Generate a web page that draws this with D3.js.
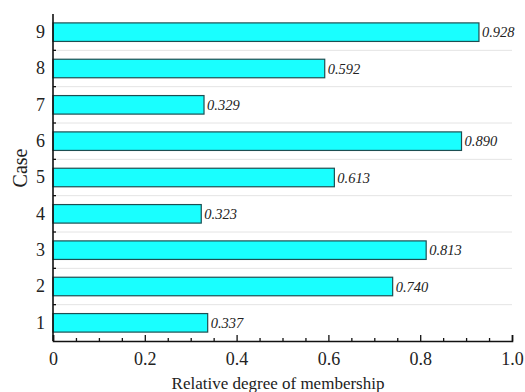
<!DOCTYPE html>
<html>
<head>
<meta charset="utf-8">
<script src="https://cdn.jsdelivr.net/npm/d3@7"></script>
<style>
  html, body { margin: 0; padding: 0; background: #fff; }
  svg { display: block; }
</style>
</head>
<body>
<svg id="chart" width="525" height="392"></svg>
<script>
// Membership degree per case
const cases = ["1", "2", "3", "4", "5", "6", "7", "8", "9"];
const values = [0.337, 0.740, 0.813, 0.323, 0.613, 0.890, 0.329, 0.592, 0.928];
const xTicks = [0, 0.2, 0.4, 0.6, 0.8, 1.0];
const xTickLabels = ["0", "0.2", "0.4", "0.6", "0.8", "1.0"];

const svg = d3.select("#chart");
const margin = { left: 53, right: 13, top: 14, bottom: 51 };
const W = 525, H = 392;
const font = "'Liberation Serif', 'Times New Roman', serif";

const x = d3.scaleLinear().domain([0, 1]).range([margin.left, W - margin.right]);
const y = d3.scaleBand().domain(cases.slice().reverse())
  .range([margin.top, H - margin.bottom]).paddingInner(0.49).paddingOuter(0.245);

// Light separators between case rows
const step = y.step();
const bounds = d3.range(1, cases.length).map(i => margin.top + i * step);
svg.append("g").selectAll("line").data(bounds).join("line")
  .attr("x1", x(0)).attr("x2", x(1))
  .attr("y1", d => d).attr("y2", d => d)
  .attr("stroke", "#e4e4e4").attr("stroke-width", 1);

// Bars
svg.append("g").selectAll("rect").data(values).join("rect")
  .attr("x", x(0))
  .attr("y", (d, i) => y(cases[i]))
  .attr("width", d => x(d) - x(0))
  .attr("height", y.bandwidth())
  .attr("fill", "#19ffff")
  .attr("stroke", "#1d4f52")
  .attr("stroke-width", 1.2);

// Value labels
svg.append("g").selectAll("text").data(values).join("text")
  .attr("x", d => x(d) + 3)
  .attr("y", (d, i) => y(cases[i]) + y.bandwidth() / 2 + 5)
  .attr("font-family", font).attr("font-style", "italic")
  .attr("font-size", 14.5).attr("fill", "#222")
  .text(d => d.toFixed(3));

// X axis
const xAxisY = H - margin.bottom;
const gx = svg.append("g").attr("transform", `translate(0,${xAxisY})`);
gx.call(d3.axisBottom(x).tickValues(xTicks).tickFormat((d, i) => xTickLabels[i]).tickSize(-6).tickPadding(11));
gx.append("g").call(d3.axisBottom(x).tickValues(d3.range(0.05, 1, 0.05).filter(v => Math.abs(v * 5 - Math.round(v * 5)) > 1e-6)).tickFormat("").tickSize(-3))
  .select(".domain").remove();
gx.selectAll(".domain").attr("stroke", "#111").attr("stroke-width", 1.6);
gx.selectAll(".tick line").attr("stroke", "#111").attr("stroke-width", 1.3);
gx.selectAll(".tick text").attr("font-family", font).attr("font-size", 18).attr("fill", "#222");

// Y axis
const gy = svg.append("g").attr("transform", `translate(${margin.left},0)`);
gy.call(d3.axisLeft(y).tickSize(0).tickPadding(8));
gy.selectAll(".domain").attr("stroke", "#111").attr("stroke-width", 1.6)
  .attr("d", `M0,${margin.top}V${H - margin.bottom}`);
gy.selectAll(".tick text").attr("font-family", font).attr("font-size", 18).attr("fill", "#222");
gy.append("g").selectAll("line").data(bounds).join("line")
  .attr("x1", 0).attr("x2", 3).attr("y1", d => d).attr("y2", d => d)
  .attr("stroke", "#111").attr("stroke-width", 1.3);

// Axis titles
svg.append("text")
  .attr("x", 278).attr("y", 389)
  .attr("text-anchor", "middle")
  .attr("font-family", font).attr("font-size", 17).attr("fill", "#222")
  .text("Relative degree of membership");

svg.append("text")
  .attr("transform", `translate(27,168) rotate(-90)`)
  .attr("text-anchor", "middle")
  .attr("font-family", font).attr("font-size", 20).attr("fill", "#222")
  .text("Case");
</script>
</body>
</html>
